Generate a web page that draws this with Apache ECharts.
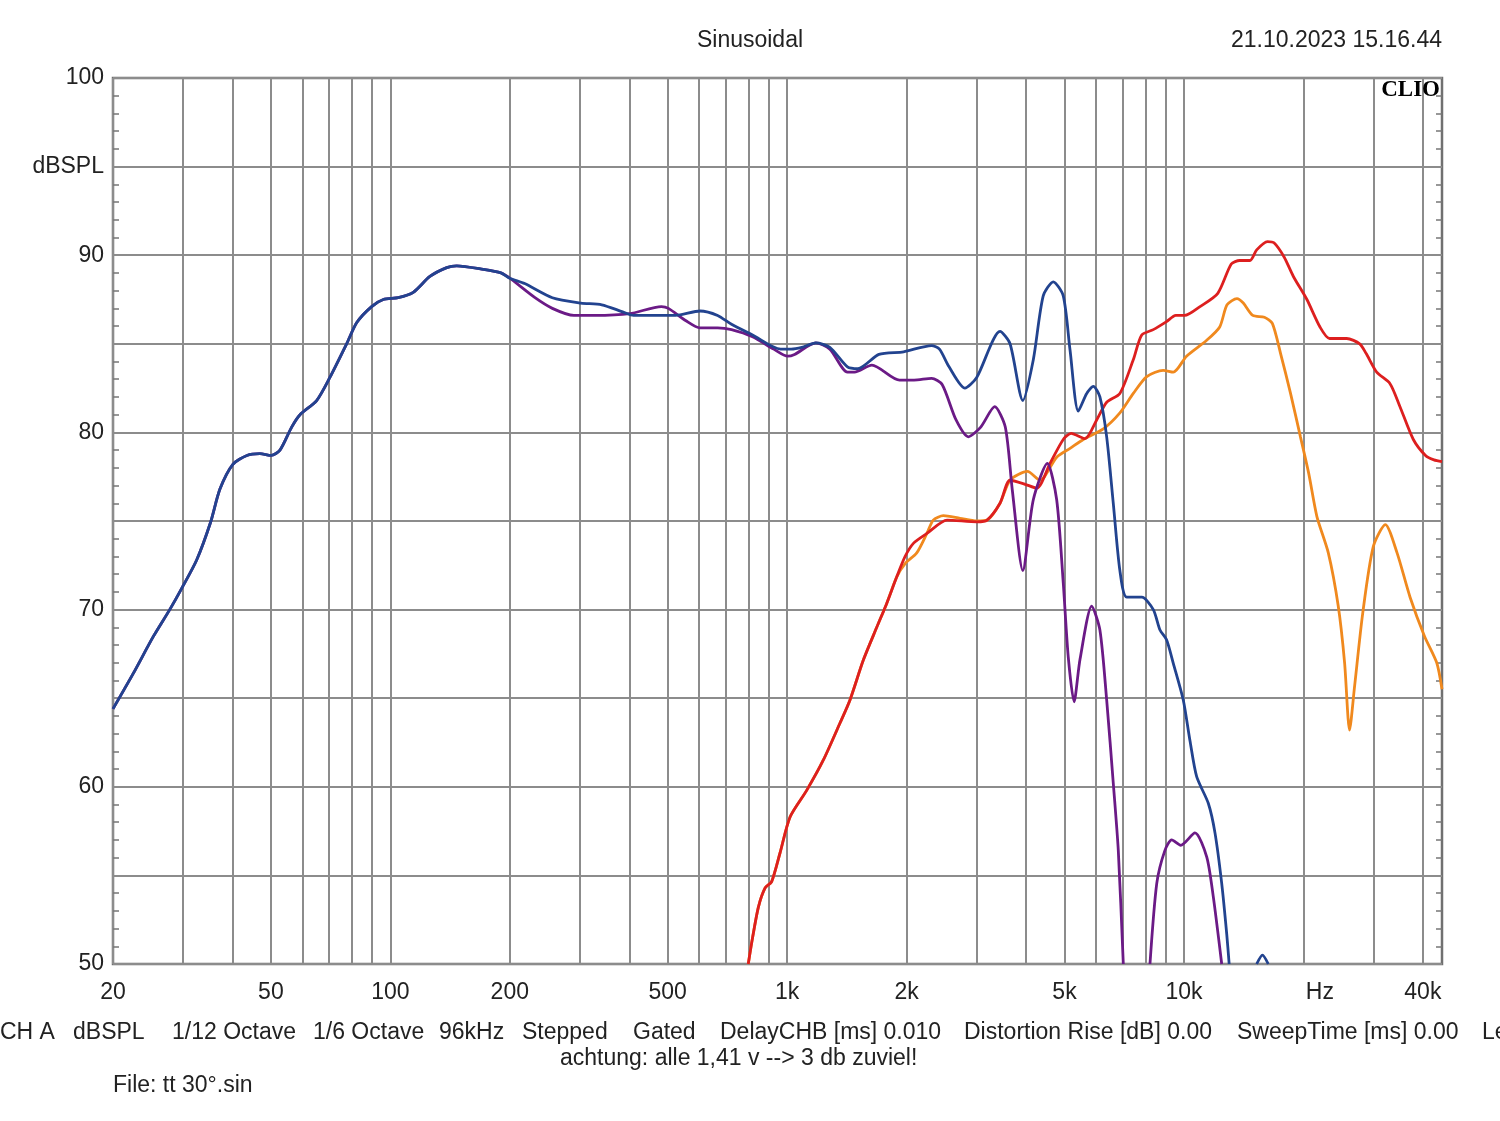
<!DOCTYPE html>
<html><head><meta charset="utf-8">
<script src="https://cdn.jsdelivr.net/npm/echarts@6/dist/echarts.min.js"></script>
<style>html,body{margin:0;padding:0;background:#fff}#c{width:1500px;height:1121px}</style>
</head><body><div id="c"></div>
<script>
// ---- axis ranges / ticks ----
const xMinHz = 20, xMaxHz = 44700;
const yMin = 50, yMax = 100, yStep = 5;
const gridFreqs = [20,30,40,50,60,70,80,90,100,200,300,400,500,600,700,800,900,
  1000,2000,3000,4000,5000,6000,7000,8000,9000,10000,20000,30000,40000];
const xLabelFreqs = [20,50,100,200,500,1000,2000,5000,10000,22000,40000];
const xLabelTexts = ['20','50','100','200','500','1k','2k','5k','10k','Hz','40k'];

// ---- series (Hz, dBSPL); null = curve leaves the chart ----
const blueFreq = [20,22.5,25.3,27.8,29.8,32.5,35.2,37.2,40.1,43.5,46.9,50.1,52.7,56.4,59.2,65.2,70.4,77.6,82.3,89.7,96,104.7,114.2,125.8,138.7,146.9,171.5,190,200,218,256,302,341,385,410,482,523,603,668,724,818,963,1024,1089,1181,1281,1419,1508,1703,1965,2312,2420,2559,2805,3004,3439,3645,3926,4172,4419,4685,4964,5163,5417,5687,5910,6140,6386,6636,6895,7172,7827,8371,8702,9040,9400,9960,10356,10766,11517,11973,12449,12816,13000,14000,15250,15770,16310];
const blueDb   = [64.4,66.4,68.5,70.0,71.2,72.8,74.9,76.8,78.2,78.7,78.8,78.7,79.0,80.3,81.0,81.8,83.1,85.0,86.2,87.1,87.5,87.6,87.9,88.8,89.3,89.4,89.2,89.0,88.7,88.4,87.6,87.3,87.2,86.8,86.6,86.6,86.6,86.85,86.6,86.1,85.5,84.7,84.7,84.8,85.05,84.8,83.7,83.6,84.4,84.55,84.9,84.7,83.7,82.5,83.1,85.7,85.0,81.8,84.1,87.7,88.5,87.7,84.65,81.2,82.2,82.6,82.0,79.75,76.0,72.2,70.7,70.7,70.0,68.85,68.3,66.97,64.9,62.6,60.57,59.07,57.4,54.55,51.7,50.0,null,50.0,50.5,50.0];

const purpleFreq = [20,22.5,25.3,27.8,29.8,32.5,35.2,37.2,40.1,43.5,46.9,50.1,52.7,56.4,59.2,65.2,70.4,77.6,82.3,89.7,96,104.7,114.2,125.8,138.7,146.9,171.5,190,200,231.5,256,290,327,401,482,502,556,603,668,724,818,925,1003,1044,1181,1281,1419,1478,1635,1920,2088,2312,2458,2665,2862,3075,3334,3546,3693,3926,4172,4526,4778,4964,5111,5285,5471,5855,6140,6386,6636,6832,7033,7600,8210,8540,8950,9314,9813,10661,11411,11855,12449];
const purpleDb   = [64.4,66.4,68.5,70.0,71.2,72.8,74.9,76.8,78.2,78.7,78.8,78.7,79.0,80.3,81.0,81.8,83.1,85.0,86.2,87.1,87.5,87.6,87.9,88.8,89.3,89.4,89.2,89.0,88.7,87.6,87.0,86.6,86.6,86.7,87.1,87.0,86.3,85.9,85.9,85.8,85.4,84.7,84.3,84.4,85.05,84.7,83.4,83.4,83.8,82.95,82.95,83.05,82.7,80.7,79.75,80.3,81.45,80.3,76.75,72.2,76.2,78.25,76.2,71.5,67.3,64.8,67.2,70.2,68.85,64.9,60.2,56.4,50.0,null,50.0,54.55,56.4,57.0,56.7,57.4,56.05,53.8,50.0];

const redFreq = [798,814,846,880,914,959,1017,1120,1233,1359,1440,1556,1682,1782,1889,1983,2083,2250,2530,3010,3190,3439,3645,3950,4256,4597,4964,5195,5631,6026,6386,6895,7452,7827,8371,9040,9537,10040,10976,12170,13160,13820,14670,15250,16240,16860,17880,18870,20410,22020,23280,25710,27730,28790,30600,33060,35030,37850,40620,42650,44700];
const redDb   = [50.0,51.2,53.2,54.3,54.65,56.25,58.3,59.8,61.5,63.6,64.9,67.15,69.0,70.35,71.85,73.0,73.75,74.3,75.05,74.95,75.05,76.0,77.3,77.1,76.85,78.25,79.6,79.95,79.65,80.7,81.7,82.2,84.1,85.5,85.8,86.25,86.6,86.6,87.1,87.85,89.5,89.7,89.7,90.3,90.77,90.7,89.9,88.8,87.5,85.95,85.3,85.3,85.0,84.45,83.4,82.75,81.45,79.6,78.7,78.45,78.35];

const orangeFreq = [798,814,846,880,914,959,1017,1120,1233,1359,1440,1556,1682,1782,1889,1983,2121,2250,2335,2475,2727,3004,3190,3439,3645,4032,4337,4778,5163,5575,6262,6895,7452,8058,8864,9400,10150,11411,12305,12840,13600,14110,14910,15950,16700,17520,18560,19660,20620,21630,23110,24480,25400,26140,26910,28220,30000,32180,34440,37140,40380,43360,44700];
const orangeDb   = [50.0,51.2,53.2,54.3,54.65,56.25,58.3,59.8,61.5,63.6,64.9,67.15,69.0,70.35,71.85,72.6,73.2,74.3,75.05,75.3,75.15,75.0,75.05,76.0,77.3,77.8,77.3,78.6,79.1,79.6,80.2,81.1,82.2,83.15,83.5,83.4,84.3,85.2,85.95,87.2,87.55,87.3,86.6,86.5,86.15,84.45,82.2,79.75,77.7,75.25,73.2,70.2,67.0,63.2,65.65,69.8,73.55,74.8,73.2,70.7,68.5,67.0,65.5];

// ---- build ----
const lg = v => Math.log10(v);
const pairs = (f, d) => f.map((v, i) => [lg(v), d[i] === null ? '-' : d[i]]);
const labelFor = v => {
  for (let i = 0; i < xLabelFreqs.length; i++) if (Math.abs(lg(xLabelFreqs[i]) - v) < 1e-6) return xLabelTexts[i];
  return '';
};
const FONT = 'Liberation Sans, Arial, sans-serif';
const TXT = '#222';
const GRIDC = '#8c8c8c';

const chart = echarts.init(document.getElementById('c'), null, {renderer: 'canvas'});
function lineSeries(name, f, d, color, z) {
  return {name, type: 'line', data: pairs(f, d), showSymbol: false, symbol: 'none',
    smooth: 0.25, connectNulls: false, clip: true, z,
    lineStyle: {color, width: 2.8}, animation: false};
}
const bottomWords = [
  [0,'CH A'],[73,'dBSPL'],[172,'1/12 Octave'],[313,'1/6 Octave'],[439,'96kHz'],[522,'Stepped'],
  [633,'Gated'],[720,'DelayCHB [ms] 0.010'],[964,'Distortion Rise [dB] 0.00'],[1237,'SweepTime [ms] 0.00'],[1482,'Le']
];
const graphics = [
  {type:'text', left:'center', top: 29, style:{text:'Sinusoidal', font:'23px '+FONT, fill:TXT}},
  {type:'text', right: 58, top: 29, style:{text:'21.10.2023 15.16.44', font:'23px '+FONT, fill:TXT}},
  {type:'text', right: 60, top: 79, z: 10, style:{text:'CLIO', font:'bold 23px "Liberation Serif", "DejaVu Serif", serif', fill:'#000'}},
  {type:'text', left: 560, top: 1047, style:{text:'achtung: alle 1,41 v --> 3 db zuviel!', font:'23px '+FONT, fill:TXT}},
  {type:'text', left: 113, top: 1074, style:{text:'File: tt 30°.sin', font:'23px '+FONT, fill:TXT}}
].concat(bottomWords.map(w => ({type:'text', left: w[0], top: 1021, style:{text: w[1], font:'23px '+FONT, fill:TXT}})));

const yAxisBase = {type:'value', min:yMin, max:yMax, interval:yStep,
  axisLine:{show:false}, axisTick:{show:false, inside:true},
  minorTick:{show:true, splitNumber:5, length:6, lineStyle:{color:'#777', width:1.5}}};

chart.setOption({
  animation: false,
  backgroundColor: '#fff',
  grid: {left:113, right:58, top:78, bottom:157, show:true, borderColor:'#707070', borderWidth:2.5, backgroundColor:'#fff'},
  xAxis: {type:'value', min: lg(xMinHz), max: lg(xMaxHz),
    axisLine:{show:false},
    axisTick:{show:false, customValues: gridFreqs.map(lg)},
    splitLine:{show:true, lineStyle:{color:GRIDC, width:2}},
    axisLabel:{show:true, customValues: xLabelFreqs.map(lg), formatter: labelFor, margin:17,
      fontSize:23, fontFamily:FONT, color:TXT}},
  yAxis: [
    Object.assign({}, yAxisBase, {position:'left',
      splitLine:{show:true, lineStyle:{color:GRIDC, width:2}},
      axisLabel:{show:true, margin:9, fontSize:23, fontFamily:FONT, color:TXT,
        formatter: v => v === 95 ? 'dBSPL' : (v % 10 === 0 ? String(v) : '')}}),
    Object.assign({}, yAxisBase, {position:'right', splitLine:{show:false}, axisLabel:{show:false}})
  ],
  graphic: graphics,
  series: [
    lineSeries('orange', orangeFreq, orangeDb, '#f0891e', 2),
    lineSeries('red', redFreq, redDb, '#dd1f1f', 3),
    lineSeries('purple', purpleFreq, purpleDb, '#6b1a86', 4),
    lineSeries('blue', blueFreq, blueDb, '#22438f', 5)
  ]
});
</script></body></html>
